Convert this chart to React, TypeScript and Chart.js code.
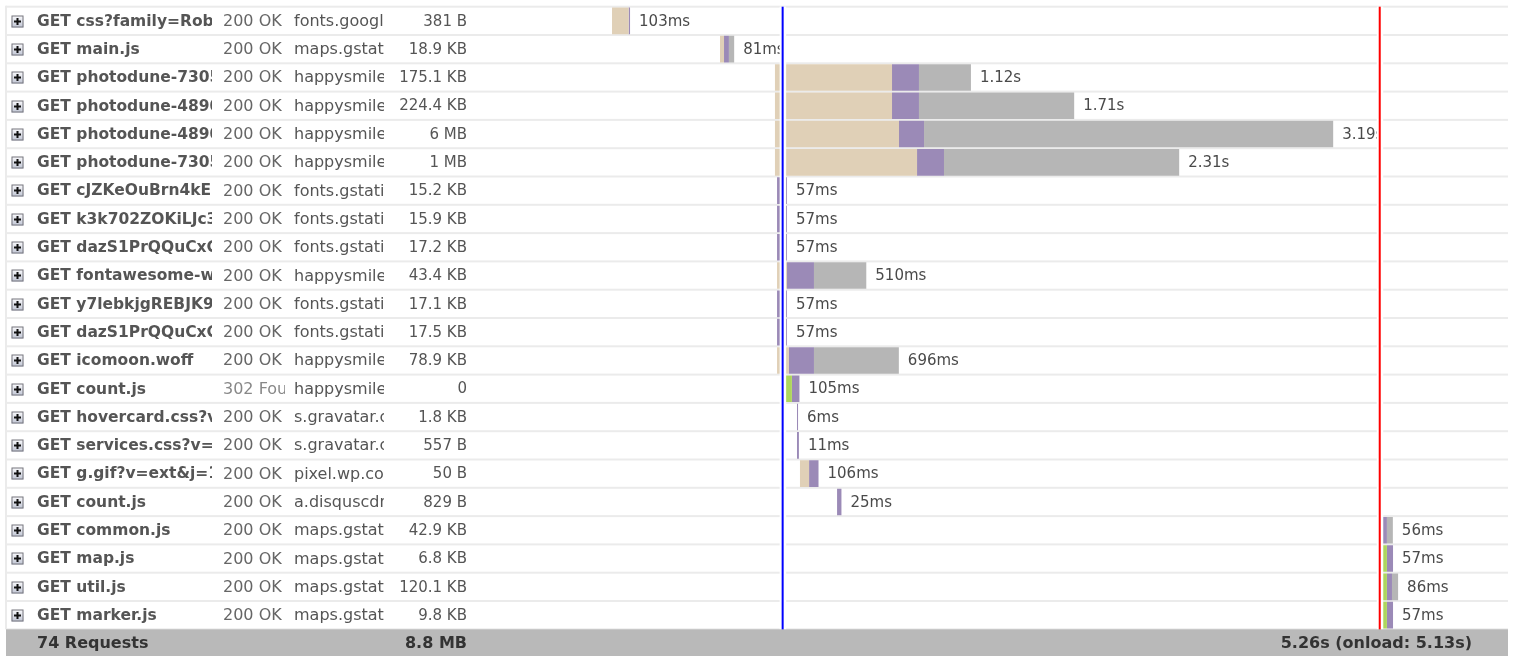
import React, { useEffect, useRef } from "react";
import { Chart, registerables } from "chart.js";

Chart.register(...registerables);

// ---- data ----
const urls = [
  "GET css?family=Roboto:400,700",
  "GET main.js",
  "GET photodune-7305441-smile.jpg",
  "GET photodune-4890215-dentist.jpg",
  "GET photodune-4890215-teeth.jpg",
  "GET photodune-7305441-family.jpg",
  "GET cJZKeOuBrn4kERxqtaUH3T8E0i7KZn.woff",
  "GET k3k702ZOKiLJc3WVjuplzHhCUOGz7.woff",
  "GET dazS1PrQQuCxC3iOAJFEJTdGNerWp.woff",
  "GET fontawesome-webfont.woff",
  "GET y7lebkjgREBJK96VQi37ZobN6UdQX.woff",
  "GET dazS1PrQQuCxC3iOAJFEJTdGNerWp.woff",
  "GET icomoon.woff",
  "GET count.js",
  "GET hovercard.css?v=1",
  "GET services.css?v=2",
  "GET g.gif?v=ext&j=1",
  "GET count.js",
  "GET common.js",
  "GET map.js",
  "GET util.js",
  "GET marker.js",
];
const statuses = [
  "200 OK", "200 OK", "200 OK", "200 OK", "200 OK", "200 OK", "200 OK", "200 OK",
  "200 OK", "200 OK", "200 OK", "200 OK", "200 OK", "302 Found", "200 OK", "200 OK",
  "200 OK", "200 OK", "200 OK", "200 OK", "200 OK", "200 OK",
];
const domains = [
  "fonts.googleapis.com", "maps.gstatic.com", "happysmile", "happysmile", "happysmile",
  "happysmile", "fonts.gstatic.com", "fonts.gstatic.com", "fonts.gstatic.com", "happysmile",
  "fonts.gstatic.com", "fonts.gstatic.com", "happysmile", "happysmile", "s.gravatar.com",
  "s.gravatar.com", "pixel.wp.com", "a.disquscdn.com", "maps.gstatic.com", "maps.gstatic.com",
  "maps.gstatic.com", "maps.gstatic.com",
];
const sizes = [
  "381 B", "18.9 KB", "175.1 KB", "224.4 KB", "6 MB", "1 MB", "15.2 KB", "15.9 KB",
  "17.2 KB", "43.4 KB", "17.1 KB", "17.5 KB", "78.9 KB", "0", "1.8 KB", "557 B",
  "50 B", "829 B", "42.9 KB", "6.8 KB", "120.1 KB", "9.8 KB",
];
// seconds
const starts = [
  0.743, 1.36, 1.674, 1.674, 1.674, 1.674, 1.686, 1.686, 1.686, 1.686, 1.686,
  1.686, 1.686, 1.709, 1.8, 1.8, 1.817, 2.029, 5.149, 5.149, 5.149, 5.149,
];
const blocking = [
  0.095, 0.023, 0.669, 0.669, 0.709, 0.812, 0, 0, 0, 0.057, 0,
  0, 0.068, 0, 0, 0, 0.052, 0, 0, 0, 0, 0,
];
const connecting = [
  0, 0, 0, 0, 0, 0, 0, 0, 0, 0, 0,
  0, 0, 0.062, 0, 0, 0, 0, 0, 0.022, 0.022, 0.022,
];
const waiting = [
  0.008, 0.028, 0.154, 0.154, 0.143, 0.154, 0.057, 0.057, 0.057, 0.154, 0.057,
  0.057, 0.143, 0.043, 0.006, 0.011, 0.054, 0.025, 0.022, 0.035, 0.029, 0.035,
];
const receiving = [
  0, 0.03, 0.297, 0.887, 2.338, 1.344, 0, 0, 0, 0.299, 0,
  0, 0.485, 0, 0, 0, 0, 0, 0.034, 0, 0.035, 0,
];
const durationLabels = [
  "103ms", "81ms", "1.12s", "1.71s", "3.19s", "2.31s", "57ms", "57ms", "57ms", "510ms", "57ms",
  "57ms", "696ms", "105ms", "6ms", "11ms", "106ms", "25ms", "56ms", "57ms", "86ms", "57ms",
];
const domContentLoaded = 1.718;
const onload = 5.13;
const timelineMax = 5.863;
const footerCount = "74 Requests";
const footerSize = "8.8 MB";
const footerTime = "5.26s (onload: 5.13s)";

// ---- styles ----
const FONT = '"DejaVu Sans", Verdana, sans-serif';
const COLORS = {
  blocking: "#e0d0b7",
  connecting: "#aed65c",
  waiting: "#9b8ab7",
  receiving: "#b6b6b6",
};
const TABLE_LEFT = 6;
const TABLE_RIGHT = 1508;

function phase(offsetArrays: number[][], dur: number[]) {
  return dur.map((d, i) => {
    if (!d) return null;
    const s = starts[i] + offsetArrays.reduce((a, arr) => a + arr[i], 0);
    return [s, s + d];
  });
}

function clipText(ctx: CanvasRenderingContext2D, text: string, x: number, y: number, clipX: number, clipW: number, band: number) {
  ctx.save();
  ctx.beginPath();
  ctx.rect(clipX, y - band / 2, clipW, band);
  ctx.clip();
  ctx.fillText(text, x, y);
  ctx.restore();
}

const tablePlugin = {
  id: "waterfallTable",
  beforeDatasetsDraw(chart: any) {
    const { ctx, chartArea, scales } = chart;
    const y = scales.y;
    const top = chartArea.top;
    const bottom = chartArea.bottom;
    const band = (bottom - top) / urls.length;
    ctx.save();
    // row separators
    ctx.fillStyle = "#ebebeb";
    for (let i = 0; i <= urls.length; i++) {
      const yy = top + i * band;
      ctx.fillRect(TABLE_LEFT, yy - 1, TABLE_RIGHT - TABLE_LEFT, 2);
    }
    ctx.fillRect(TABLE_LEFT - 1, top - 1, 2, bottom - top + 1);

    ctx.textBaseline = "middle";
    for (let i = 0; i < urls.length; i++) {
      const cy = y.getPixelForValue(i) + 0.8;
      // expand icon
      const bx = 11.5, by = Math.round(cy) - 6.5;
      const g = ctx.createLinearGradient(0, by, 0, by + 12);
      g.addColorStop(0, "#fbfbfd");
      g.addColorStop(1, "#bfc4d3");
      ctx.fillStyle = g;
      ctx.fillRect(bx, by, 12, 12);
      ctx.strokeStyle = "#76767e";
      ctx.lineWidth = 1;
      ctx.strokeRect(bx + 0.5, by + 0.5, 11, 11);
      ctx.fillStyle = "#111";
      ctx.fillRect(bx + 2.5, by + 5, 7, 2);
      ctx.fillRect(bx + 5, by + 2.5, 2, 7);

      ctx.textAlign = "left";
      ctx.font = `bold 15.5px ${FONT}`;
      ctx.fillStyle = "#555";
      clipText(ctx, urls[i], 37, cy, 30, 182, band);
      ctx.font = `16px ${FONT}`;
      ctx.fillStyle = statuses[i].startsWith("302") ? "#888" : "#666";
      clipText(ctx, statuses[i], 223, cy, 220, 65, band);
      ctx.fillStyle = "#555";
      clipText(ctx, domains[i], 294, cy, 290, 94, band);
      ctx.font = `15px ${FONT}`;
      ctx.textAlign = "right";
      ctx.fillText(sizes[i], 467, cy);
    }
    ctx.restore();
  },
  afterDatasetsDraw(chart: any) {
    const { ctx, chartArea, scales } = chart;
    const x = scales.x;
    const y = scales.y;
    const top = chartArea.top;
    const bottom = chartArea.bottom;
    ctx.save();
    ctx.font = `15px ${FONT}`;
    ctx.fillStyle = "#4a4a4a";
    ctx.textBaseline = "middle";
    ctx.textAlign = "left";
    for (let i = 0; i < urls.length; i++) {
      const end = starts[i] + blocking[i] + connecting[i] + waiting[i] + receiving[i];
      ctx.fillText(durationLabels[i], x.getPixelForValue(end) + 9, y.getPixelForValue(i) + 0.8);
    }
    // timing lines
    const lines: [number, string][] = [
      [domContentLoaded, "#0000ff"],
      [onload, "#ff0000"],
    ];
    for (const [t, c] of lines) {
      const px = x.getPixelForValue(t);
      ctx.fillStyle = "#ffffff";
      ctx.fillRect(px - 3, top, 6.5, bottom - top + 1);
      ctx.fillStyle = c;
      ctx.fillRect(px - 1, top, 2, bottom - top + 1);
    }
    // footer
    ctx.fillStyle = "#b9b9b9";
    ctx.fillRect(TABLE_LEFT, bottom, TABLE_RIGHT - TABLE_LEFT, chart.height - bottom);
    ctx.fillStyle = "#333";
    ctx.font = `bold 16px ${FONT}`;
    const fy = (bottom + chart.height) / 2 + 1;
    ctx.textAlign = "left";
    ctx.fillText(footerCount, 37, fy);
    ctx.textAlign = "right";
    ctx.fillText(footerSize, 467, fy);
    ctx.fillText(footerTime, 1472, fy);
    ctx.restore();
  },
};

export default function App() {
  const ref = useRef<HTMLCanvasElement | null>(null);
  useEffect(() => {
    if (!ref.current) return;
    const datasets = [
      { label: "Blocking", data: phase([], blocking), backgroundColor: COLORS.blocking },
      { label: "Connecting", data: phase([blocking], connecting), backgroundColor: COLORS.connecting },
      { label: "Waiting", data: phase([blocking, connecting], waiting), backgroundColor: COLORS.waiting },
      { label: "Receiving", data: phase([blocking, connecting, waiting], receiving), backgroundColor: COLORS.receiving },
    ].map((d) => ({
      ...d,
      borderWidth: 0,
      barPercentage: 0.94,
      categoryPercentage: 1,
      grouped: false,
    }));
    const chart = new Chart(ref.current, {
      type: "bar",
      data: { labels: urls, datasets: datasets as any },
      options: {
        indexAxis: "y",
        animation: false,
        responsive: false,
        layout: { padding: { left: 482, right: 5, top: 6.7, bottom: 26.7 } },
        plugins: { legend: { display: false }, tooltip: { enabled: false } },
        scales: {
          x: { type: "linear", min: 0, max: timelineMax, display: false, stacked: false },
          y: { type: "category", display: false, stacked: true, offset: true },
        },
      },
      plugins: [tablePlugin],
    });
    return () => chart.destroy();
  }, []);
  return (
    <div style={{ position: "absolute", left: 0, top: 0, width: 1513, height: 656, background: "#fff" }}>
      <canvas ref={ref} width={1513} height={656} style={{ width: 1513, height: 656, display: "block" }} />
    </div>
  );
}
